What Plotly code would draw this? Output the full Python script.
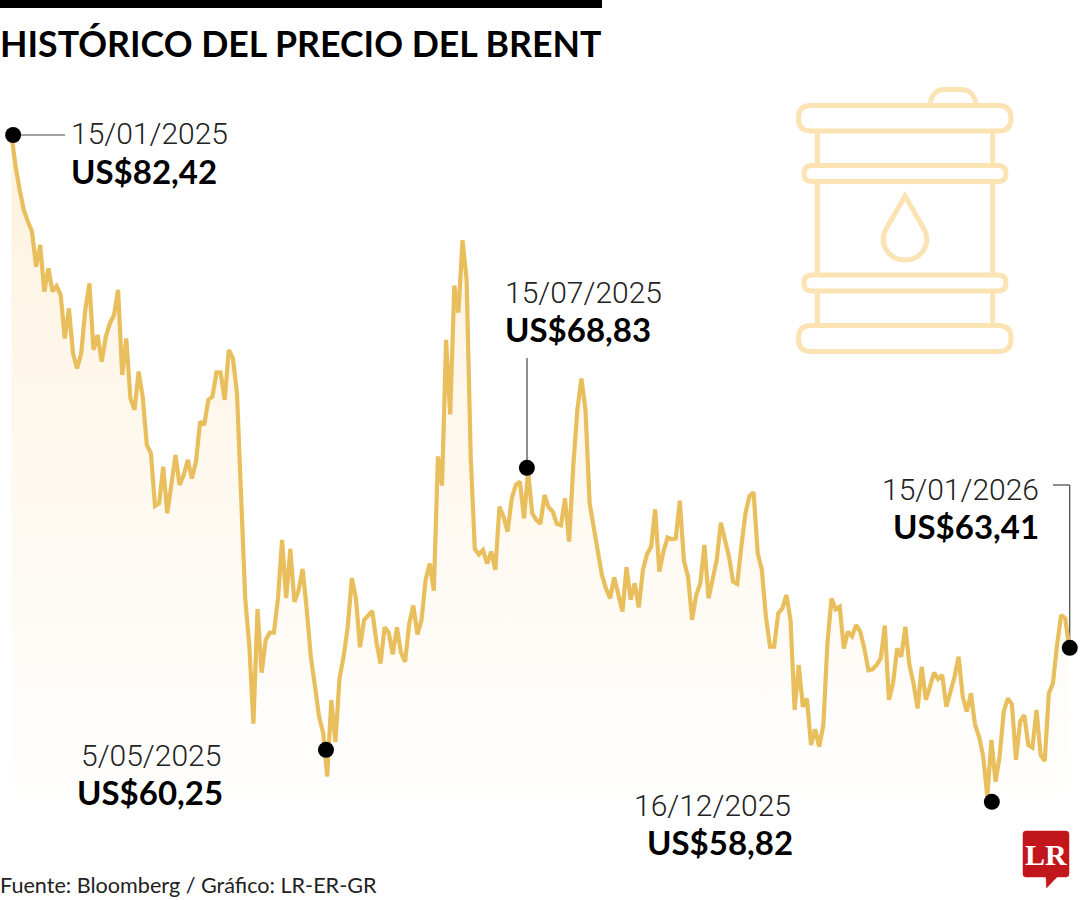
import plotly.graph_objects as go

TITLE = "HISTÓRICO DEL PRECIO DEL BRENT"
SOURCE = "Fuente: Bloomberg / Gráfico: LR-ER-GR"

# Brent level, one value per trading session
price_q1 = [82.42,81.31,80.50,79.80,79.39,79.04,77.81,78.57,76.94,77.75,
            76.94,77.13,76.82,75.30,76.35,74.78,74.25,74.78,76.30,77.23,
            74.90,75.42,74.49,75.36,75.83,76.12,77.00,74.02,75.30,73.20,
            72.80,74.14,73.26,71.57,71.28,69.44,69.53,70.81,69.18,70.11,
            71.22,70.17,70.52,71.05,70.40,70.99,72.39,72.27,73.15,73.26,
            74.11,74.11,73.15,74.90,74.60,73.38]
price_q2 = [69.39,66.21,64.55,61.82,65.83,63.60,64.75,65.00,65.00,66.21,
            68.25,66.21,67.93,66.08,66.47,67.23,65.83,64.17,63.15,62.07,
            61.50,59.97,62.64,61.18,63.41,64.17,65.19,66.91,66.21,64.49,
            65.45,65.63,65.76,64.68,63.92,65.19,65.00,64.24,65.19,64.30,
            63.98,65.32,65.95,64.94,65.45,66.85,67.42,66.47,71.17,70.15,
            75.25,72.64,77.15,76.20,78.74,77.35,71.17,67.93,67.74,67.89,
            67.42]
price_q3 = [67.84,67.20,69.41,69.06,68.54,69.70,70.17,70.29,69.00,70.64,
            69.18,68.95,68.81,69.82,69.39,69.24,68.81,68.76,69.70,68.19,
            70.81,72.80,73.90,72.80,69.53,68.71,67.84,67.02,66.55,66.20,
            66.94,66.26,65.74,67.29,66.15,66.73,65.89,67.20,67.75,68.01,
            69.32,67.14,67.84,68.33,68.27,68.30,69.62,67.52,66.96,65.45,
            66.32,66.73,68.07,66.20,66.96,67.55,68.85,68.25,67.66,66.79,
            66.71,68.01,69.18,69.79,69.91,67.78,67.20,65.56,64.51,64.51]
price_q4 = [65.68,65.85,66.32,65.45,62.30,63.87,62.41,62.70,61.07,61.62,
            61.01,61.77,64.63,66.20,65.82,65.91,64.45,65.04,64.88,65.27,
            65.04,64.45,63.69,63.72,63.87,64.10,65.25,62.65,63.23,64.45,
            64.16,65.21,63.87,63.23,62.35,63.81,62.65,63.11,63.60,63.38,
            63.52,62.41,62.88,63.46,64.16,62.76,62.24,62.88,61.77,61.36,
            60.66,59.26,61.25,59.79,60.66,62.24,62.70,62.50,60.55,61.89,
            62.12,61.07,60.98,62.30,60.72,60.51,62.88,63.23,64.57,65.62,
            65.50,64.45]
price = price_q1 + price_q2 + price_q3 + price_q4
session = list(range(len(price)))

# highlighted sessions (position on the drawn curve) and their printed labels
marker_session = [0.4, 76.7, 125.7, 239.1, 258.1]
marker_level = [82.42, 60.90, 70.77, 59.08, 64.47]
marker_dates = ["15/01/2025", "5/05/2025", "15/07/2025", "16/12/2025", "15/01/2026"]
marker_values = ["US$82,42", "US$60,25", "US$68,83", "US$58,82", "US$63,41"]

LINE = "#E9BF5E"
ICON = "#FBE3B4"
RED = "#C2161D"
SANS = "Lato, 'Open Sans', sans-serif"
LIGHT = "Roboto, 'Open Sans', sans-serif"


def X(x):
    return x / 1080


def Y(y):
    return 1 - y / 900


def path(cmds):
    out = []
    for c in cmds:
        if c == "Z":
            out.append("Z")
        else:
            op, *pts = c
            out.append(op + " ".join(f"{X(pts[i]):.5f},{Y(pts[i+1]):.5f}" for i in range(0, len(pts), 2)))
    return " ".join(out)


def rrect(x0, y0, x1, y1, r):
    return path([("M", x0 + r, y0), ("L", x1 - r, y0), ("Q", x1, y0, x1, y0 + r),
                 ("L", x1, y1 - r), ("Q", x1, y1, x1 - r, y1), ("L", x0 + r, y1),
                 ("Q", x0, y1, x0, y1 - r), ("L", x0, y0 + r), ("Q", x0, y0, x0 + r, y0), "Z"])


def pshape(d, color=ICON, w=5, fill=None):
    s = dict(type="path", xref="paper", yref="paper", path=d, line=dict(color=color, width=w), layer="above")
    if fill:
        s["fillcolor"] = fill
    return s


def seg(x0, y0, x1, y1, color="#444444", w=1.2):
    return dict(type="line", xref="paper", yref="paper", x0=X(x0), y0=Y(y0), x1=X(x1), y1=Y(y1),
                line=dict(color=color, width=w), layer="below")


shapes = [
    dict(type="rect", xref="paper", yref="paper", x0=X(0), x1=X(602), y0=Y(0), y1=Y(8),
         fillcolor="#000000", line=dict(width=0)),
    # leader lines
    seg(20, 135, 65, 135),
    seg(230, 750, 326, 750),
    seg(527, 358, 527, 468),
    seg(801, 802, 992, 802),
    seg(1053, 485, 1069.7, 485),
    seg(1069.7, 485, 1069.7, 648),
    # barrel icon
    pshape(rrect(798.5, 105.5, 1011, 131, 12.5)),
    pshape(rrect(804, 165.5, 1006, 181.5, 8)),
    pshape(rrect(804, 275, 1006, 291, 8)),
    pshape(rrect(798.5, 325.5, 1011, 351.5, 12.5)),
    pshape(path([("M", 930, 103), ("C", 933, 92, 938, 89.5, 945, 89.5), ("L", 960, 89.5),
                 ("C", 968, 89.5, 973, 92, 976, 103)])),
    pshape(path([("M", 905, 196), ("L", 886, 229), ("C", 878, 244, 889, 260, 905, 260),
                 ("C", 921, 260, 932, 244, 924, 229), "Z"])),
]
for xs in (817.3, 992.7):
    for a, b in ((133, 165), (184, 275), (291, 325)):
        shapes.append(seg(xs, a, xs, b, ICON, 5) | dict(layer="above"))
# logo
shapes.append(pshape(path([("M", 1026, 831), ("L", 1066, 831), ("Q", 1069, 831, 1069, 834), ("L", 1069, 874),
                           ("Q", 1069, 877, 1066, 877), ("L", 1057, 877), ("L", 1046.5, 888), ("L", 1046, 877),
                           ("L", 1026, 877), ("Q", 1023, 877, 1023, 874), ("L", 1023, 834),
                           ("Q", 1023, 831, 1026, 831), "Z"]), RED, 0.5, RED))


def label(text, x, y, anchor, size, weight, color="#000000", family=SANS):
    return dict(text=text, xref="paper", yref="paper", x=X(x), y=Y(y), xanchor=anchor, yanchor="middle",
                showarrow=False, borderpad=0, font=dict(family=family, size=size, weight=weight, color=color))


annotations = [
    label(TITLE, -1, 44, "left", 35.7, 700),
    label(SOURCE, -1, 885, "left", 21.6, 400, "#222222"),
    label("LR", 1046, 854, "center", 30, 700, "#FFFFFF", "'Liberation Serif', serif"),
]
date_pos = [(70, 134, "left"), (222, 755, "right"), (504, 292, "left"), (792, 805.5, "right"), (1040, 490, "right")]
value_pos = [(70, 171, "left"), (224, 791.5, "right"), (504, 329, "left"), (794, 842, "right"), (1040, 526, "right")]
for d, v, dp, vp in zip(marker_dates, marker_values, date_pos, value_pos):
    annotations.append(label(d, dp[0], dp[1], dp[2], 30, 300, "#222222", LIGHT))
    annotations.append(label(v, vp[0], vp[1], vp[2], 33, 700))

fig = go.Figure()
fig.add_trace(go.Scatter(
    x=session, y=price, mode="lines", line=dict(color=LINE, width=4.2),
    fill="tozeroy",
    fillgradient=dict(type="vertical", start=58.7, stop=82.42,
                      colorscale=[[0, "#FFFFFF"], [1, "#FDF2DF"]]),
    hoverinfo="skip", showlegend=False))
fig.add_trace(go.Scatter(
    x=marker_session, y=marker_level, mode="markers",
    marker=dict(color="#000000", size=16, line=dict(width=0)),
    hoverinfo="skip", showlegend=False))

fig.update_layout(
    width=1080, height=900, margin=dict(l=0, r=0, t=0, b=0), autosize=False,
    paper_bgcolor="#FFFFFF", plot_bgcolor="rgba(0,0,0,0)",
    xaxis=dict(range=[-2.805, 260.6], visible=False, fixedrange=True),
    yaxis=dict(range=[55.645, 87.145], visible=False, fixedrange=True),
    shapes=shapes, annotations=annotations,
)
fig.write_html(
    "out.html",
    config=dict(displayModeBar=False),
    post_script="document.body.style.margin='0';document.documentElement.style.overflow='hidden';"
                "var s=document.createElement('style');s.textContent='.js-line{stroke-linejoin:miter !important}';document.head.appendChild(s);",
)
